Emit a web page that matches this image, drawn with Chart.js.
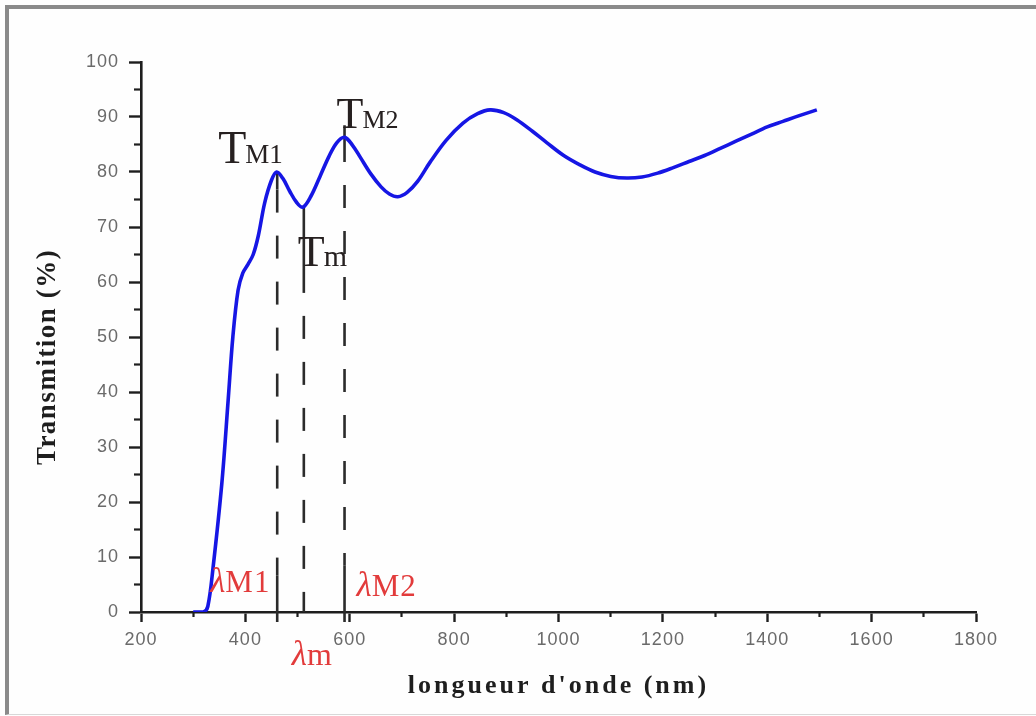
<!DOCTYPE html>
<html><head><meta charset="utf-8">
<script src="https://cdn.jsdelivr.net/npm/chart.js@4.4.1/dist/chart.umd.min.js"></script>
<style>
html,body{margin:0;padding:0;background:#fff;}
#wrap{position:relative;width:1036px;height:716px;overflow:hidden;background:#fefefe;}
#frame{position:absolute;left:5px;top:5px;right:0;bottom:1px;border-top:4px solid #8a8a8a;border-left:4px solid #8a8a8a;border-bottom:1px solid #d8d8d8;}
canvas{position:absolute;left:0;top:0;}
</style></head><body>
<div id="wrap"><div id="frame"></div><canvas id="c" width="1036" height="716"></canvas></div>
<script>
// ---- data ----
const wavelength = [300, 320, 328, 338, 355, 367, 376, 386, 395, 405, 415, 425, 437, 450, 460, 472, 485, 498, 510, 525, 543, 560, 575, 590, 605, 620, 640, 660, 676, 692, 710, 730, 754, 785, 817, 845, 869, 895, 920, 950, 978, 1010, 1041, 1070, 1100, 1131, 1160, 1190, 1220, 1250, 1280, 1310, 1340, 1370, 1400, 1430, 1460, 1495];
const transmission = [0, 0, 1, 8, 23.5, 38.5, 50, 58.5, 61.6, 63.2, 65, 68.5, 74.4, 78.5, 80, 78.8, 76.5, 74.5, 73.6, 75.5, 79.2, 82.8, 85.3, 86.3, 84.9, 82.7, 79.7, 77.3, 76, 75.5, 76.3, 78.3, 81.8, 85.8, 88.9, 90.6, 91.3, 90.8, 89.5, 87.4, 85.3, 83, 81.3, 80, 79.2, 78.9, 79.1, 79.8, 80.8, 81.9, 83.0, 84.3, 85.6, 86.9, 88.2, 89.2, 90.2, 91.3];

const xTicks = [200, 400, 600, 800, 1000, 1200, 1400, 1600, 1800];
const xMinorTicks = [300, 500, 700, 900, 1100, 1300, 1500, 1700];
const yTicks = [0, 10, 20, 30, 40, 50, 60, 70, 80, 90, 100];
const yMinorTicks = [5, 15, 25, 35, 45, 55, 65, 75, 85, 95];

// guide lines (lambda positions and their transmission end points)
const guideLambda = [461, 512, 590];          // λM1, λm, λM2
const guideSolidTop = [[80, 76.8], [73.6, 62.2], [88.5, 86.0]];
const guideDashed = [[76.8, 6.7], [62.2, 0], [86.0, 8.5]];
const guideSolidBottom = [[6.7, -1.8], null, [8.5, -1.8]];

const xTitle = "longueur d'onde (nm)";
const yTitle = "Transmition (%)";

// ---- build datasets ----
const curve = wavelength.map((w, i) => ({x: w, y: transmission[i]}));
const guideSets = [];
guideLambda.forEach((l, i) => {
  guideSets.push({data: guideSolidTop[i].map(v => ({x: l, y: v})), borderColor: '#2b2b2b', borderWidth: 2.6, pointRadius: 0, clip: false});
  guideSets.push({data: guideDashed[i].map(v => ({x: l, y: v})), borderColor: '#2b2b2b', borderWidth: 2.6, borderDash: [23, 23], pointRadius: 0, clip: false});
  if (guideSolidBottom[i]) guideSets.push({data: guideSolidBottom[i].map(v => ({x: l, y: v})), borderColor: '#2b2b2b', borderWidth: 2.6, pointRadius: 0, clip: false});
});

function setTicks(arr) { return s => { s.ticks = arr.map(v => ({value: v})); }; }

const annot = {
  id: 'annot',
  beforeDraw(chart) { chart.ctx.letterSpacing = '1px'; },
  beforeDatasetsDraw(chart) { chart.ctx.letterSpacing = '0px'; },
  afterDraw(chart) {
    const ctx = chart.ctx;
    const xs = chart.scales.x, ys = chart.scales.y;
    const px = v => xs.getPixelForValue(v), py = v => ys.getPixelForValue(v);
    ctx.save();
    ctx.textAlign = 'left';
    ctx.textBaseline = 'alphabetic';
    function lab(x, y, main, sub, s1, s2, color, mainStyle) {
      ctx.fillStyle = color;
      ctx.font = (mainStyle || '') + ' ' + s1 + 'px "Liberation Serif"';
      ctx.fillText(main, x, y);
      const w = ctx.measureText(main).width;
      ctx.font = s2 + 'px "Liberation Serif"';
      ctx.fillText(sub, x + w - 1, y);
    }
    const dark = '#262020', red = '#e23b3b';
    // T labels
    ctx.letterSpacing = '0px';
    lab(px(guideLambda[0]) - 59, py(80) - 9, 'T', 'M1', 46, 27, dark);
    lab(px(guideLambda[2]) - 8, py(88.5) + 3, 'T', 'M2', 44, 26, dark);
    lab(px(guideLambda[1]) - 6, py(63), 'T', 'm', 44, 30, dark);
    // lambda labels
    ctx.letterSpacing = '1px';
    lab(px(guideLambda[0]) - 67, py(3.6), 'λ', 'M1', 35, 31, red, 'italic');
    lab(px(guideLambda[2]) + 12, py(2.9), 'λ', 'M2', 35, 31, red, 'italic');
    lab(px(guideLambda[1]) - 12, py(0) + 53, 'λ', 'm', 35, 32, red, 'italic');
    // axis titles
    ctx.fillStyle = '#1e1e1e';
    ctx.letterSpacing = '3px';
    ctx.font = 'bold 26px "Liberation Serif"';
    ctx.textAlign = 'center';
    ctx.fillText(xTitle, (chart.chartArea.left + chart.chartArea.right) / 2, 693);
    ctx.letterSpacing = '1.5px';
    ctx.font = 'bold 27px "Liberation Serif"';
    ctx.translate(55, 357);
    ctx.rotate(-Math.PI / 2);
    ctx.fillText(yTitle, 0, 0);
    ctx.restore();
  }
};

const axisColor = '#1e1e1e';
const tickFont = {family: '"Liberation Sans", Arial', size: 18};
const plain = v => String(v);

new Chart(document.getElementById('c'), {
  type: 'line',
  data: {datasets: [
    {data: curve, borderColor: '#1616e4', borderWidth: 3.6, pointRadius: 0, tension: 0.35},
    ...guideSets
  ]},
  options: {
    responsive: false, animation: false, devicePixelRatio: 1,
    layout: {padding: {left: 0, right: 60, top: 62, bottom: 0}},
    plugins: {legend: {display: false}, tooltip: {enabled: false}},
    scales: {
      x: {type: 'linear', position: 'bottom', weight: 1, min: 200, max: 1800,
        afterBuildTicks: setTicks(xTicks), afterFit: s => { s.height = 104; },
        border: {color: axisColor, width: 2.6},
        grid: {drawOnChartArea: false, tickLength: 10, tickColor: axisColor, tickWidth: 2.4},
        ticks: {color: '#6a6a6a', font: tickFont, padding: 7, maxRotation: 0, autoSkip: false, callback: plain}},
      xMinor: {type: 'linear', position: 'bottom', weight: 0, min: 200, max: 1800,
        afterBuildTicks: setTicks(xMinorTicks), afterFit: s => { s.height = 0; },
        border: {display: false},
        grid: {drawOnChartArea: false, tickLength: 5, tickColor: axisColor, tickWidth: 2.2},
        ticks: {display: false}},
      y: {type: 'linear', position: 'left', weight: 1, min: 0, max: 100,
        afterBuildTicks: setTicks(yTicks), afterFit: s => { s.width = 141; },
        border: {color: axisColor, width: 2.6},
        grid: {drawOnChartArea: false, tickLength: 12, tickColor: axisColor, tickWidth: 2.4},
        ticks: {color: '#6a6a6a', font: tickFont, padding: 10, autoSkip: false, callback: plain}},
      yMinor: {type: 'linear', position: 'left', weight: 0, min: 0, max: 100,
        afterBuildTicks: setTicks(yMinorTicks), afterFit: s => { s.width = 0; },
        border: {display: false},
        grid: {drawOnChartArea: false, tickLength: 7, tickColor: axisColor, tickWidth: 2.2},
        ticks: {display: false}}
    }
  },
  plugins: [annot]
});
</script>
</body></html>
